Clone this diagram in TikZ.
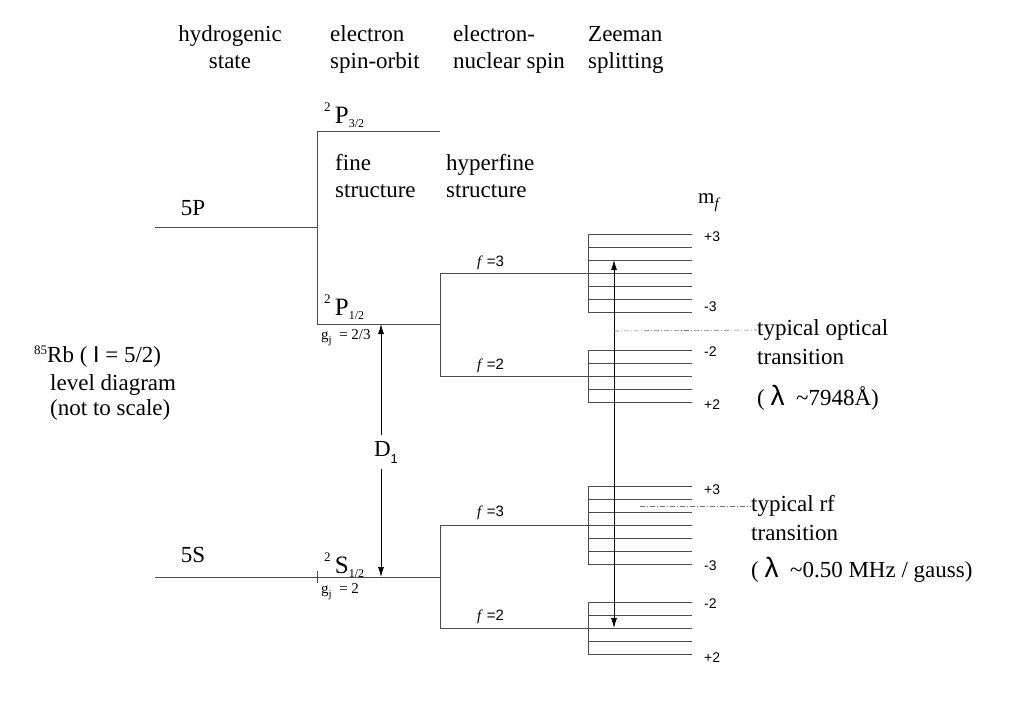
\documentclass[tikz,border=0pt]{standalone}
\usepackage{fontspec}
\setmainfont{Liberation Serif}
\newfontfamily\hv{Liberation Sans}
\usetikzlibrary{arrows.meta}
\newcommand\fs[2]{\fontsize{#1}{#2}\selectfont}
\newcommand\zeeman[2]{%
  \foreach \k in {-#2,...,#2}
    \draw[lvl] (588,{#1+13*\k}) -- (692,{#1+13*\k});
  \draw[lvl] (588,{#1-13*#2}) -- (588,{#1+13*#2});}
\newcommand\term[3]{\raisebox{12pt}{\fs{13}{13}#1}\,#2\raisebox{-4pt}{\fs{12}{12}#3}}
\newcommand\gj[1]{g\raisebox{-4pt}{\fs{11}{11}j}\ \ = #1}
\begin{document}
\begin{tikzpicture}[x=1pt,y=-1pt,
  lvl/.style={draw=black!70,line width=0.7pt},
  txt/.style={font=\fs{23}{27},inner sep=0pt},
  head/.style={txt,execute at begin node=\strut,execute at end node=\strut},
  num/.style={font=\hv\fs{14}{16},inner sep=0pt,anchor=west},
  flab/.style={font=\fs{15}{16},inner sep=0pt,anchor=west},
  arr/.style={-{Latex[length=10pt,width=6pt]},line width=0.9pt},
  dd/.style={draw=black!55,line width=0.6pt,dash pattern=on 5pt off 2pt on 1pt off 2pt}]
\useasboundingbox (0,0) rectangle (1022,710);

% column heads
\node[head,align=center] (hhyd) at (230,51.5) {hydrogenic\\state};
\node[head,align=left,anchor=west] (hso) at (330,51.5) {electron\\spin-orbit};
\node[head,align=left,anchor=west] (hns) at (453,51.5) {electron-\\nuclear spin};
\node[head,align=left,anchor=west] (hzee) at (588,51.5) {Zeeman\\splitting};
\node[head,align=left,anchor=west] (hfine) at (335,180) {fine\\structure};
\node[head,align=left,anchor=west] (hhfs) at (446,180) {hyperfine\\structure};

% 5P levels
\draw[lvl] (155,227) -- (317,227);
\draw[lvl] (317,131) -- (317,324);
\draw[lvl] (317,131) -- (440,131);
\draw[lvl] (317,324) -- (440,324);
\draw[lvl] (440,273) -- (440,376);
\draw[lvl] (440,273) -- (588,273);
\draw[lvl] (440,376) -- (588,376);
\zeeman{273}{3}
\zeeman{376}{2}

% 5S levels
\draw[lvl] (155,577) -- (440,577);
\draw[lvl] (317,571) -- (317,583);
\draw[lvl] (440,525) -- (440,628);
\draw[lvl] (440,525) -- (588,525);
\draw[lvl] (440,628) -- (588,628);
\zeeman{525}{3}
\zeeman{628}{2}

% level labels
\node[txt] (l5p) at (193,208) {5P};
\node[txt] (l5s) at (193,555) {5S};
\node[txt,font=\fs{25}{27},anchor=base west] (p32) at (324,123) {\term{2}{P}{3/2}};
\node[txt,font=\fs{25}{27},anchor=base west] (p12) at (324,315) {\term{2}{P}{1/2}};
\node[txt,font=\fs{25}{27},anchor=base west] (s12) at (324,573) {\term{2}{S}{1/2}};
\node[flab] (gp) at (321,338) {\gj{2/3}};
\node[flab] (gs) at (321,592) {\gj{2}};
\node[flab] (fp3) at (477,263) {\textit{f} \hv=3};
\node[flab] (fp2) at (477,366) {\textit{f} \hv=2};
\node[flab] (fs3) at (477,513) {\textit{f} \hv=3};
\node[flab] (fs2) at (477,617) {\textit{f} \hv=2};
\node[flab,font=\fs{21}{22}] (mf) at (698,203) {m\raisebox{-5pt}{\fs{15}{15}\textit{f}}};
\node[num] (p3a) at (704,237) {+3};
\node[num] (p3b) at (704,307) {-3};
\node[num] (p2a) at (704,352) {-2};
\node[num] (p2b) at (704,405) {+2};
\node[num] (s3a) at (704,490) {+3};
\node[num] (s3b) at (704,566) {-3};
\node[num] (s2a) at (704,604) {-2};
\node[num] (s2b) at (704,658) {+2};

% left caption
\node[txt,anchor=west] (rb) at (34,357) {\raisebox{8pt}{\fs{13}{13}85}Rb ( {\hv I} = 5/2)};
\node[txt,anchor=west] (rb2) at (50,385) {level diagram};
\node[txt,anchor=west] (rb3) at (50,410) {(not to scale)};

% D1 line
\coordinate (d1top) at (381,324);
\coordinate (d1bot) at (381,577);
\node[txt,inner sep=6pt] (d1) at (386,452) {D\raisebox{-7pt}{\hv\fs{13}{13}1}};
\draw[arr] (d1top |- d1.north) -- (d1top);
\draw[arr] (d1bot |- d1.south) -- (d1bot);

% optical and rf transitions
\coordinate (optup) at (614,260);
\coordinate (optdn) at (614,628);
\draw[arr,{Latex[length=10pt,width=6pt]}-{Latex[length=10pt,width=6pt]}] (optup) -- (optdn);
\coordinate (optx) at (614,331);
\node[txt,anchor=west] (opt1) at (757,330) {typical optical};
\node[txt,anchor=west] (opt2) at (757,357) {transition};
\node[txt,anchor=west] (opt3) at (757,398) {( {\hv\fs{28}{28}λ}\ \ \textasciitilde7948Å)};
\draw[dd] (optx) -- (opt1.west);
\coordinate (rfx) at (640,506);
\node[txt,anchor=west] (rf1) at (751,506) {typical rf};
\node[txt,anchor=west] (rf2) at (751,533) {transition};
\node[txt,anchor=west] (rf3) at (751,570) {( {\hv\fs{28}{28}λ}\ \ \textasciitilde0.50 MHz / gauss)};
\draw[dd] (rfx) -- (rf1.west);
\end{tikzpicture}
\end{document}
